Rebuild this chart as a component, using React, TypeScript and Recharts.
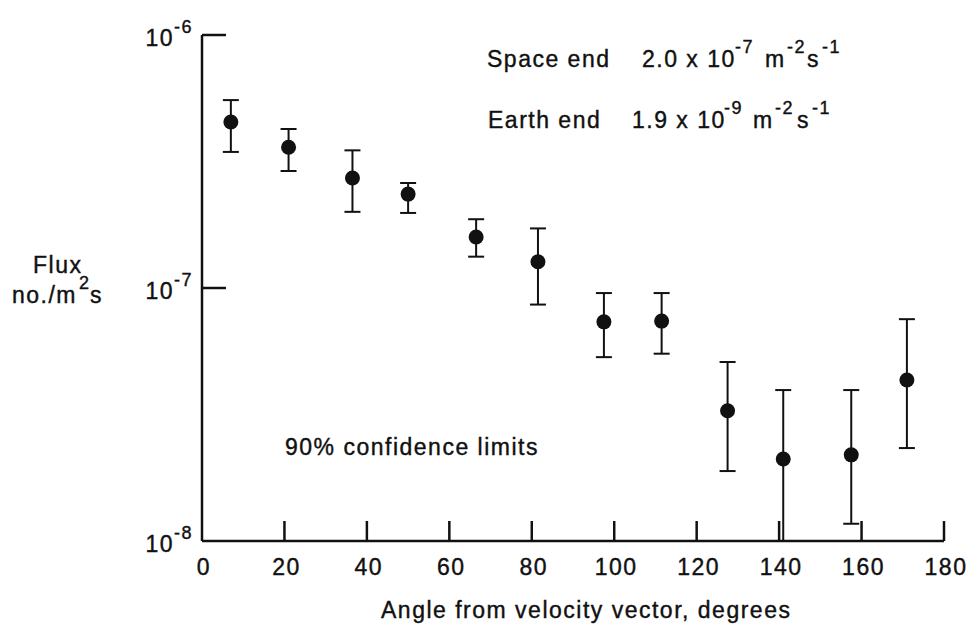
import { ScatterChart, Scatter, XAxis, YAxis, ErrorBar } from "recharts";

// angle from velocity vector (deg) and measured flux with 90% limits
const angles = [7, 21, 36.5, 50, 66.5, 81.5, 97.5, 111.5, 127.5, 141, 157.5, 171];
const flux = [4.53e-7, 3.6e-7, 2.72e-7, 2.35e-7, 1.59e-7, 1.27e-7, 7.35e-8, 7.4e-8, 3.27e-8, 2.11e-8, 2.19e-8, 4.33e-8];
const fluxLow = [3.45e-7, 2.9e-7, 2.0e-7, 1.98e-7, 1.33e-7, 8.6e-8, 5.33e-8, 5.5e-8, 1.89e-8, 1.0e-8, 1.17e-8, 2.33e-8];
const fluxHigh = [5.53e-7, 4.25e-7, 3.5e-7, 2.6e-7, 1.87e-7, 1.72e-7, 9.55e-8, 9.55e-8, 5.1e-8, 3.95e-8, 3.95e-8, 7.53e-8];

const xTicks = [0, 20, 40, 60, 80, 100, 120, 140, 160, 180];
const yTicks = [1e-8, 1e-7, 1e-6];

const data = angles.map((a, i) => ({
  angle: a,
  flux: flux[i],
  err: [flux[i] - fluxLow[i], fluxHigh[i] - flux[i]],
}));

const FONT = "'Liberation Sans', Arial, Helvetica, sans-serif";
const txt = {
  fontFamily: FONT,
  fontSize: 23,
  letterSpacing: 1.5,
  fill: "#111",
  stroke: "#111",
  strokeWidth: 0.4,
};
const sup = { fontSize: 18 };

function AngleTick({ x, y, payload }: any) {
  return (
    <g>
      {payload.value !== 0 && (
        <line x1={x} y1={y} x2={x} y2={y - 20} stroke="#111" strokeWidth={2.5} />
      )}
      <text x={x + 2} y={y + 34} textAnchor="middle" {...txt}>
        {payload.value}
      </text>
    </g>
  );
}

function FluxTick({ x, y, payload }: any) {
  const exp = Math.round(Math.log10(payload.value));
  return (
    <g>
      {exp > -8 && <line x1={x} y1={y} x2={x + 24} y2={y} stroke="#111" strokeWidth={2.5} />}
      <text x={x - 9} y={y + 11} textAnchor="end" {...txt}>
        <tspan>10</tspan>
        <tspan dy={-13} {...sup}>{exp}</tspan>
      </text>
    </g>
  );
}

function Dot({ cx, cy }: any) {
  return <circle cx={cx} cy={cy} r={7.5} fill="#111" />;
}

export default function App() {
  return (
    <div style={{ position: "absolute", left: 0, top: 0, width: 973, height: 631, background: "#fff" }}>
      <ScatterChart width={973} height={631} margin={{ top: 35, left: 142, right: 29, bottom: 50 }}>
        <XAxis
          type="number"
          dataKey="angle"
          domain={[0, 180]}
          ticks={xTicks}
          height={40}
          tickSize={0}
          tickMargin={0}
          tickLine={false}
          axisLine={{ stroke: "#111", strokeWidth: 2.5 }}
          tick={<AngleTick />}
          interval={0}
        />
        <YAxis
          type="number"
          dataKey="flux"
          scale="log"
          domain={[1e-8, 1e-6]}
          allowDataOverflow
          ticks={yTicks}
          width={60}
          tickSize={0}
          tickMargin={0}
          tickLine={false}
          axisLine={{ stroke: "#111", strokeWidth: 2.5 }}
          tick={<FluxTick />}
          interval={0}
        />
        <Scatter data={data} shape={<Dot />} isAnimationActive={false}>
          <ErrorBar dataKey="err" direction="y" width={8} stroke="#111" strokeWidth={2} />
        </Scatter>
      </ScatterChart>
      <svg width={973} height={631} style={{ position: "absolute", left: 0, top: 0, pointerEvents: "none" }}>
        <text x={33} y={273} {...txt}>Flux</text>
        <text x={12} y={303} {...txt}>no./m</text>
        <text x={79} y={289} {...txt} {...sup}>2</text>
        <text x={90} y={303} {...txt}>s</text>

        <text x={487} y={67} {...txt}>Space end</text>
        <text x={642} y={67} {...txt}>2.0 x 10</text>
        <text x={735} y={53} {...txt} {...sup}>-7</text>
        <text x={765} y={67} {...txt}>m</text>
        <text x={787} y={53} {...txt} {...sup}>-2</text>
        <text x={807} y={67} {...txt}>s</text>
        <text x={822} y={53} {...txt} {...sup}>-1</text>

        <text x={488} y={128} {...txt}>Earth end</text>
        <text x={632} y={128} {...txt}>1.9 x 10</text>
        <text x={724} y={114} {...txt} {...sup}>-9</text>
        <text x={753} y={128} {...txt}>m</text>
        <text x={775} y={114} {...txt} {...sup}>-2</text>
        <text x={797} y={128} {...txt}>s</text>
        <text x={812} y={114} {...txt} {...sup}>-1</text>

        <text x={285} y={455} {...txt}>90% confidence limits</text>
        <text x={381} y={618} {...txt}>Angle from velocity vector, degrees</text>
      </svg>
    </div>
  );
}
